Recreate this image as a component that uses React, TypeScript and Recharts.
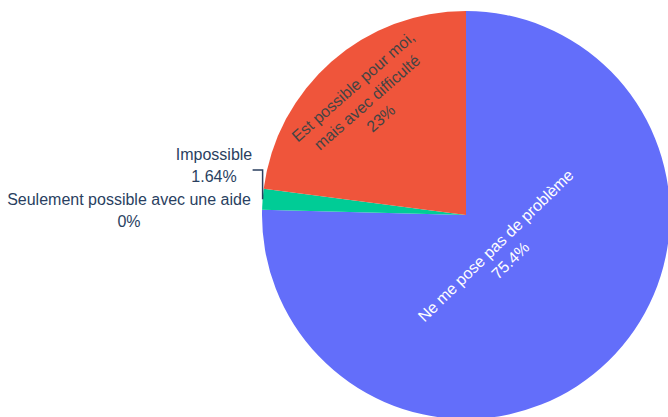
import { PieChart, Pie, Cell } from 'recharts'

const labels = [
    'Ne me pose pas de problème',
    'Seulement possible avec une aide',
    'Impossible',
    'Est possible pour moi, mais avec difficulté',
]
const counts = [46, 0, 1, 14]
const percentLabels = ['75.4%', '0%', '1.64%', '23%']
const colors = ['#636efa', '#ab63fa', '#00cc96', '#ef553b']

const data = labels.map((name, i) => ({ name, value: counts[i] }))

const RAD = Math.PI / 180
const FONT = '"Liberation Sans", Arial, sans-serif'

function renderLabel(props: any) {
    const { cx, cy, midAngle, outerRadius, index } = props
    const tangent = (() => {
        let r = -midAngle - 90
        while (r > 90) r -= 180
        while (r < -90) r += 180
        return r
    })()

    if (index === 0 || index === 3) {
        const dist = index === 0 ? 53 : 150
        const x = cx + dist * Math.cos(-midAngle * RAD)
        const y = cy + dist * Math.sin(-midAngle * RAD)
        const lines = index === 0
            ? [labels[0], percentLabels[0]]
            : ['Est possible pour moi,', 'mais avec difficulté', percentLabels[3]]
        const lh = 21
        const start = -((lines.length - 1) * lh) / 2
        return (
            <g key={`lbl-${index}`} transform={`translate(${x},${y}) rotate(${tangent})`}>
                <text
                    textAnchor="middle"
                    fontFamily={FONT}
                    fontSize={16}
                    fill={index === 0 ? '#ffffff' : '#444444'}
                >
                    {lines.map((l, i) => (
                        <tspan key={i} x={0} y={start + i * lh} dy="0.35em">{l}</tspan>
                    ))}
                </text>
            </g>
        )
    }

    if (index === 2) {
        const ex = cx + outerRadius * Math.cos(-midAngle * RAD)
        const ey = cy + outerRadius * Math.sin(-midAngle * RAD)
        return (
            <g key={`lbl-${index}`}>
                <path
                    d={`M${ex},${ey} L${ex},${cy - 45} L${ex - 10},${cy - 45}`}
                    stroke="#2a3f5f"
                    strokeWidth={1.5}
                    fill="none"
                />
                <text textAnchor="middle" fontFamily={FONT} fontSize={16} fill="#2a3f5f">
                    <tspan x={cx - 252} y={cy - 55}>{labels[2]}</tspan>
                    <tspan x={cx - 252} y={cy - 33}>{percentLabels[2]}</tspan>
                </text>
            </g>
        )
    }

    return (
        <g key={`lbl-${index}`}>
            <text textAnchor="middle" fontFamily={FONT} fontSize={16} fill="#2a3f5f">
                <tspan x={cx - 337} y={cy - 10}>{labels[1]}</tspan>
                <tspan x={cx - 337} y={cy + 12}>{percentLabels[1]}</tspan>
            </text>
        </g>
    )
}

export default function App() {
    return (
        <div style={{ position: 'absolute', left: 0, top: 0, width: 668, height: 417, background: '#fff' }}>
            <PieChart width={668} height={417} margin={{ top: 0, right: 0, bottom: 0, left: 0 }}>
                <Pie
                    data={data}
                    dataKey="value"
                    nameKey="name"
                    cx={466}
                    cy={215}
                    outerRadius={204}
                    startAngle={90}
                    endAngle={-270}
                    stroke="#ffffff"
                    strokeWidth={0}
                    label={renderLabel}
                    labelLine={false}
                    isAnimationActive={false}
                >
                    {data.map((entry, index) => (
                        <Cell key={`cell-${index}`} fill={colors[index]} />
                    ))}
                </Pie>
            </PieChart>
        </div>
    )
}
